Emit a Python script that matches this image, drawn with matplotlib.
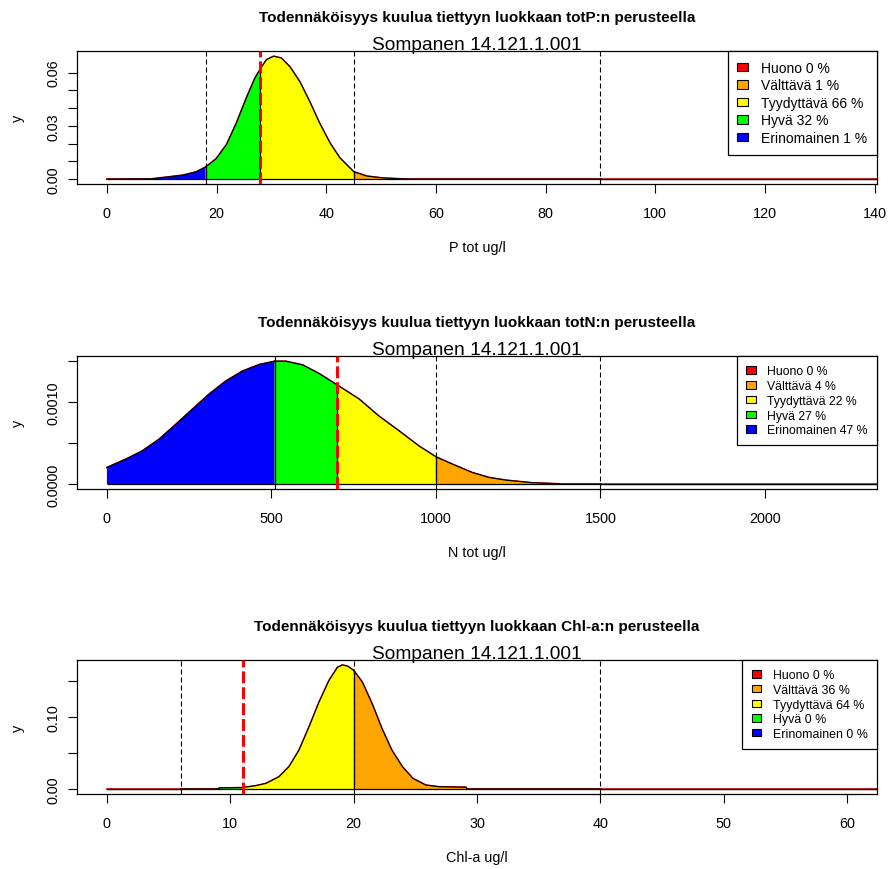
import numpy as np
import matplotlib
matplotlib.use("Agg")
import matplotlib.pyplot as plt
from matplotlib.patches import Patch

plt.rcParams["font.family"] = ["Liberation Sans", "DejaVu Sans"]
plt.rcParams["path.simplify"] = False

SITE = "Sompanen 14.121.1.001"
CLASS_NAMES = ["Huono", "Välttävä", "Tyydyttävä", "Hyvä", "Erinomainen"]
CLASS_COLORS = ["#FF0000", "#FFA500", "#FFFF00", "#00FF00", "#0000FF"]

# totP: density of the estimated mean, class limits (H/G, G/M, M/P, P/B), class shares
p_x = [0, 8, 10.8, 13.8, 16.3, 18, 19.9, 21.8, 23.6, 25.4, 26.95, 28, 29.1, 30.4,
       31.8, 33.4, 35.2, 37.0, 38.8, 40.7, 42.5, 45, 47.4, 50.4, 55, 90, 160]
p_y = [0, 0.0001, 0.0011, 0.0022, 0.0041, 0.0068, 0.0114, 0.0194, 0.0315, 0.0455,
       0.0566, 0.0622, 0.0672, 0.0692, 0.0682, 0.0632, 0.0548, 0.0436, 0.0315,
       0.0203, 0.0119, 0.0042, 0.0017, 0.0006, 0, 0, 0]
p_limits = [18, 28, 45, 90]
p_pct = [0, 1, 66, 32, 1]

# totN
n_x = [0, 58, 108, 159, 210, 260, 311, 362, 412, 463, 510, 544, 595, 645, 700,
       766, 827, 888, 948, 1000, 1050, 1110, 1161, 1212, 1292, 1374, 1380, 1500, 2600]
n_y = [0.000203, 0.000305, 0.000407, 0.000549, 0.000732, 0.000915, 0.0011,
       0.00126, 0.00138, 0.00146, 0.0015, 0.0015, 0.001455, 0.00135, 0.00121,
       0.00104, 0.00083, 0.00065, 0.000467, 0.000333, 0.000244, 0.000142,
       0.0000813, 0.0000488, 0.0000163, 0.000004, 0, 0, 0]
n_limits = [510, 700, 1000, 1500]
n_pct = [0, 4, 22, 27, 47]

# Chl-a
c_x = [0, 6, 9, 9.1, 11, 12.06, 12.9, 13.95, 14.76, 15.57, 16.38, 17.19, 18.0,
       18.68, 19.08, 19.49, 20, 20.7, 21.5, 22.3, 23.1, 23.95, 24.8, 25.85, 26.9,
       29.1, 29.2, 40, 70]
c_y = [0, 0, 0, 0.0015, 0.002, 0.0046, 0.0078, 0.017, 0.031, 0.0537, 0.0858, 0.12,
       0.150, 0.168, 0.1715, 0.170, 0.164, 0.148, 0.118, 0.0835, 0.0537, 0.031,
       0.0147, 0.0055, 0.0032, 0.0025, 0, 0, 0]
c_limits = [6, 11, 20, 40]
c_pct = [0, 36, 64, 0, 0]

panels = [
    dict(x=p_x, y=p_y, limits=p_limits, pct=p_pct, name="totP", xlab="P tot ug/l",
         xmax=135, xticks=range(0, 141, 20),
         yticks=[0, 0.01, 0.02, 0.03, 0.04, 0.05, 0.06],
         ylabels=["0.00", "", "", "0.03", "", "", "0.06"],
         legsize=10, legspace=0.25, legpad=0.7),
    dict(x=n_x, y=n_y, limits=n_limits, pct=n_pct, name="totN", xlab="N tot ug/l",
         xmax=2250, xticks=range(0, 2001, 500),
         yticks=[0, 0.0005, 0.0010, 0.0015],
         ylabels=["0.0000", "", "0.0010", ""],
         legsize=8.8, legspace=0.22, legpad=0.75),
    dict(x=c_x, y=c_y, limits=c_limits, pct=c_pct, name="Chl-a", xlab="Chl-a ug/l",
         xmax=60, xticks=range(0, 61, 10),
         yticks=[0, 0.05, 0.10, 0.15],
         ylabels=["0.00", "", "0.10", ""],
         legsize=8.9, legspace=0.22, legpad=0.75),
]

W, H = 889, 870
fig = plt.figure(figsize=(W / 100, H / 100), dpi=100)

# plot regions in pixels: (top, bottom)
boxes = [(52.3, 185.0), (357.3, 490.0), (661.0, 795.0)]
left_px, right_px = 77.3, 876.7

for p, (top, bot) in zip(panels, boxes):
    ax = fig.add_axes([left_px / W, 1 - bot / H, (right_px - left_px) / W, (bot - top) / H])
    x = np.array(p["x"], dtype=float)
    y = np.array(p["y"], dtype=float)

    ax.plot(x, y, color="red", lw=1.2, zorder=2)

    # class polygons, from the lowest (Erinomainen) to the highest (Huono)
    edges = [x[0]] + list(p["limits"]) + [x[-1]]
    fills = CLASS_COLORS[::-1]
    for lo, hi, col in zip(edges[:-1], edges[1:], fills):
        sel = (x >= lo) & (x <= hi)
        xs, ys = x[sel], y[sel]
        ax.fill(np.r_[xs[0], xs, xs[-1]], np.r_[0, ys, 0], facecolor=col,
                edgecolor="none", zorder=3)
        ax.plot(xs, ys, color="black", lw=0.9, zorder=3.5)
    # polygon bottoms and class borders
    ax.hlines(0, x[0], x[-1], color="black", lw=0.9, zorder=3.5)
    ax.vlines(p["limits"], 0, np.interp(p["limits"], x, y), color="black",
              lw=0.9, zorder=3.5)

    for i, lim in enumerate(p["limits"]):
        if i == 1:
            ax.axvline(lim, color="red", lw=2.2, ls=(0, (3.9, 1.3)), zorder=5)
        else:
            ax.axvline(lim, color="black", lw=0.8, ls=(0, (4.5, 2.7)), zorder=4)

    pad = 0.04 * p["xmax"]
    ax.set_xlim(-pad, p["xmax"] + pad)
    ymax = y.max()
    ax.set_ylim(-0.04 * ymax, 1.04 * ymax)

    ax.set_xticks(list(p["xticks"]))
    ax.set_xticklabels([str(t) for t in p["xticks"]])
    ax.set_yticks(p["yticks"])
    ax.set_yticklabels(p["ylabels"])
    ax.tick_params(direction="out", length=6.5, width=0.8, labelsize=10.4)
    ax.tick_params(axis="x", pad=9.5)
    ax.tick_params(axis="y", pad=5.8, labelrotation=90)
    for lab in ax.get_yticklabels():
        lab.set_va("center")
    for s in ax.spines.values():
        s.set_linewidth(0.9)

    ax.annotate("Todennäköisyys kuulua tiettyyn luokkaan %s:n perusteella" % p["name"],
                xy=(0.5, 1), xycoords="axes fraction", xytext=(0, 21.6),
                textcoords="offset points", ha="center", va="baseline",
                fontsize=11, fontweight="bold")
    ax.annotate(SITE, xy=(0.5, 1), xycoords="axes fraction", xytext=(0, 1.7),
                textcoords="offset points", ha="center", va="baseline", fontsize=13.8)
    ax.annotate(p["xlab"], xy=(0.5, 0), xycoords="axes fraction", xytext=(0, -45.5),
                textcoords="offset points", ha="center", va="center", fontsize=10.4)
    ax.annotate("y", xy=(0, 0.5), xycoords="axes fraction", xytext=(-43, 0),
                textcoords="offset points", ha="center", va="center",
                rotation=90, fontsize=10.4)

    handles = [Patch(facecolor=c, edgecolor="black", lw=0.8) for c in CLASS_COLORS]
    labels = ["%s %d %%" % (n, v) for n, v in zip(CLASS_NAMES, p["pct"])]
    leg = ax.legend(handles, labels, loc="upper right", borderaxespad=0,
                    fontsize=p["legsize"], handlelength=0.8, handleheight=0.55,
                    handletextpad=0.9, labelspacing=p["legspace"],
                    borderpad=p["legpad"], fancybox=False, framealpha=1,
                    edgecolor="black")
    leg.get_frame().set_linewidth(0.9)
    leg.set_zorder(10)

fig.savefig("out.png", dpi=100)
